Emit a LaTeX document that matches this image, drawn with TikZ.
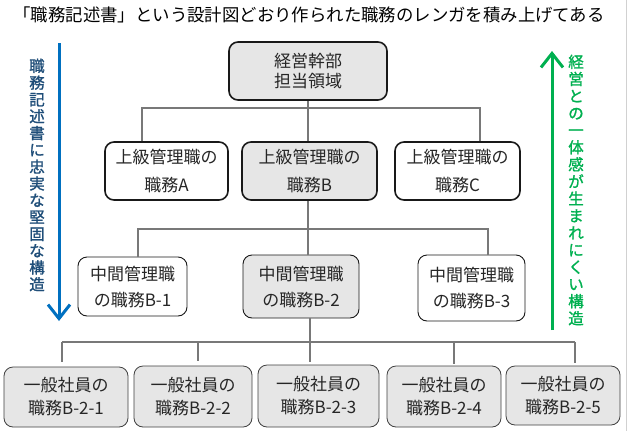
\documentclass[tikz,border=0pt]{standalone}
\usepackage{fontspec}
\setmainfont{Noto Sans CJK JP}
\newfontfamily\jpb[FakeBold=1.3]{Noto Sans CJK JP}
\usetikzlibrary{arrows.meta,calc}
\definecolor{conngray}{RGB}{120,120,120}
\definecolor{boxfill}{RGB}{230,230,230}
\definecolor{txtgray}{RGB}{38,38,38}
\definecolor{bluearr}{RGB}{0,112,192}
\definecolor{bluetxt}{RGB}{31,78,121}
\definecolor{greenarr}{RGB}{0,176,80}
\tikzset{
  box/.style={rounded corners=9pt, align=center, inner sep=0pt, text=txtgray},
  heavybox/.style={box, draw=black!90, line width=1.6pt, font=\fontsize{17}{28}\selectfont},
  midbox/.style={box, draw=black!90, line width=0.9pt, font=\fontsize{17}{26}\selectfont},
  lowbox/.style={box, draw=black!75, line width=0.8pt, font=\fontsize{17}{23}\selectfont},
  grayfill/.style={fill=boxfill},
  whitefill/.style={fill=white},
  conn/.style={draw=conngray, line width=2pt},
  vtext/.style={align=center, inner sep=0pt},
  sidearrow/.style={line width=3pt, -{Straight Barb[length=14pt,width=22pt,line width=3pt]}}
}
\begin{document}
\begin{tikzpicture}[x=1pt,y=-1pt]
\useasboundingbox (0,0) rectangle (628,431);
\fill[white] (0,0) rectangle (628,431);
\draw[line width=1.2pt, black!18] (626.5,0) -- (626.5,431);

% title
\node[font=\fontsize{17.4}{20}\selectfont, text=black, inner sep=0pt] (title) at (309,15) {「職務記述書」という設計図どおり作られた職務のレンガを積み上げてある};

% top
\node[heavybox, grayfill, minimum width=158pt, minimum height=58pt, font=\fontsize{17}{20}\selectfont] (top) at (308,71) {経営幹部\\担当領域};

% level 2
\node[heavybox, whitefill, minimum width=123pt, minimum height=58pt] (A) at (166.5,171) {上級管理職の\\職務A};
\node[heavybox, grayfill, minimum width=135pt, minimum height=58pt] (B) at (309.5,171) {上級管理職の\\職務B};
\node[heavybox, whitefill, minimum width=125pt, minimum height=58pt] (C) at (457.5,171) {上級管理職の\\職務C};

% level 3
\node[midbox, whitefill, minimum width=109pt, minimum height=59pt] (B1) at (132.5,286.5) {中間管理職\\の職務B-1};
\node[midbox, grayfill, minimum width=116pt, minimum height=63pt] (B2) at (301,286.5) {中間管理職\\の職務B-2};
\node[midbox, whitefill, minimum width=107pt, minimum height=66pt] (B3) at (471.5,288) {中間管理職\\の職務B-3};

% level 4
\node[lowbox, grayfill, minimum width=124pt, minimum height=60pt] (E1) at (66,397) {一般社員の\\職務B-2-1};
\node[lowbox, grayfill, minimum width=118pt, minimum height=61pt] (E2) at (193,396.5) {一般社員の\\職務B-2-2};
\node[lowbox, grayfill, minimum width=121pt, minimum height=62pt] (E3) at (318.5,396) {一般社員の\\職務B-2-3};
\node[lowbox, grayfill, minimum width=114pt, minimum height=61pt] (E4) at (444,396.5) {一般社員の\\職務B-2-4};
\node[lowbox, grayfill, minimum width=114pt, minimum height=59pt] (E5) at (563,395.5) {一般社員の\\職務B-2-5};

% connectors level 1 -> 2
\coordinate (b1L) at (142,108);
\coordinate (b1R) at (480,108);
\draw[conn] (A.north -| b1L) -- (b1L) -- (b1R) -- (C.north -| b1R);
\draw[conn] (top.south) -- (B.north -| top.south);

% connectors level 2 -> 3
\coordinate (b2L) at (138,229);
\coordinate (b2R) at (488,229);
\draw[conn] (B1.north -| b2L) -- (b2L) -- (b2R) -- (B3.north -| b2R);
\draw[conn] (B.south -| top.south) -- (B2.north -| top.south);

% connectors level 3 -> 4
\coordinate (b3L) at (62,342);
\coordinate (b3a) at (198,342);
\coordinate (b3M) at (310,342);
\coordinate (b3b) at (454,342);
\coordinate (b3R) at (575,342);
\draw[conn] (b3L) -- (b3R);
\draw[conn] (B2.south -| b3M) -- (b3M);
\draw[conn, shorten >=5pt] (b3L) -- (E1.north -| b3L);
\draw[conn, shorten >=5pt] (b3a) -- (E2.north -| b3a);
\draw[conn, shorten >=3pt] (b3M) -- (E3.north -| b3M);
\draw[conn, shorten >=2pt] (b3b) -- (E4.north -| b3b);
\draw[conn, shorten >=3pt] (b3R) -- (E5.north -| b3R);

% side arrows
\coordinate (blueS) at (59,43);
\coordinate (blueE) at (59,321);
\draw[bluearr, sidearrow] (blueS) -- (blueE);
\coordinate (greenS) at (552,330);
\coordinate (greenE) at (552,51);
\draw[greenarr, sidearrow] (greenS) -- (greenE);

% vertical texts
\node[vtext, text=bluetxt, font=\jpb\fontsize{15.5}{16.8}\selectfont] (bluetext) at (37,175) {職\\務\\記\\述\\書\\に\\忠\\実\\な\\堅\\固\\な\\構\\造};
\node[vtext, text=greenarr, font=\jpb\fontsize{15.5}{17.1}\selectfont] (greentext) at (576,190) {経\\営\\と\\の\\一\\体\\感\\が\\生\\ま\\れ\\に\\く\\い\\構\\造};
\end{tikzpicture}
\end{document}
